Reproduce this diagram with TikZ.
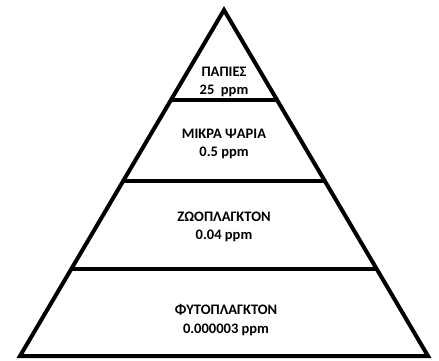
\documentclass[tikz,border=0pt]{standalone}
\usepackage{fontspec}
\setmainfont{Carlito}
\usetikzlibrary{calc}
\begin{document}
\begin{tikzpicture}[x=1pt,y=-1pt,
  tier/.style={line width=4pt},
  label/.style={font=\bfseries\fontsize{14.5}{18.5}\selectfont, align=center, text=black}]
\useasboundingbox (0,0) rectangle (439,360);
% pyramid outline
\coordinate (apex) at (224,10);
\coordinate (bl) at (20,356);
\coordinate (br) at (428,356);
\draw[tier, line join=miter] (apex) -- (br) -- (bl) -- cycle;
% tier dividers, ending on the sides
\foreach \yy in {100,181,269}{
  \draw[tier] ($(apex)!{(\yy-10)/346}!(bl)$) -- ($(apex)!{(\yy-10)/346}!(br)$);
}
\node[label] (top) at (224,82) {ΠΑΠΙΕΣ\\25\ \ ppm};
\node[label] (fish) at (224,144) {ΜΙΚΡΑ ΨΑΡΙΑ\\0.5 ppm};
\node[label] (zoo) at (224,227) {ΖΩΟΠΛΑΓΚΤΟΝ\\0.04 ppm};
\node[label] (phyto) at (226,320) {ΦΥΤΟΠΛΑΓΚΤΟΝ\\0.000003 ppm};
\end{tikzpicture}
\end{document}
